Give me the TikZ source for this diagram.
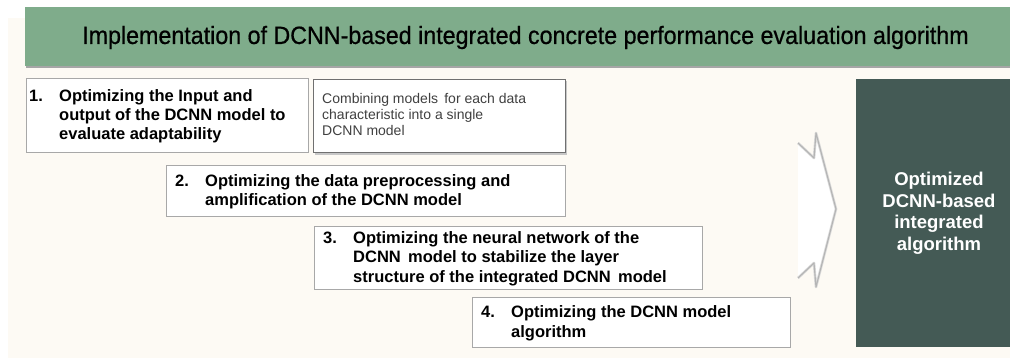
\documentclass[tikz,border=0pt]{standalone}
\usepackage{fontspec}
\setmainfont{Liberation Sans}
\newfontfamily\titlefont[FakeBold=0.7]{Liberation Sans}
\definecolor{bgcream}{HTML}{FDFAF4}
\definecolor{bannergreen}{HTML}{7FAC8B}
\definecolor{darkslate}{HTML}{445A55}
\definecolor{boxgray}{HTML}{A8A8A8}
\definecolor{boxdark}{HTML}{707070}
\definecolor{combtext}{HTML}{404040}
\definecolor{arrowgray}{HTML}{B4B4B4}
\tikzset{
  itembox/.style={draw=boxgray, fill=white, line width=0.9pt, anchor=north west, inner sep=0pt},
  itemtext/.style={anchor=west, inner sep=0pt, text=black,
    font=\fontsize{16.5}{19.3}\selectfont\bfseries},
  combtextstyle/.style={anchor=west, inner sep=0pt, text=combtext,
    font=\fontsize{14}{16}\selectfont},
  resulttext/.style={inner sep=0pt, text=white, align=center,
    font=\fontsize{18.5}{21.5}\selectfont\bfseries},
}
\begin{document}
\begin{tikzpicture}[x=1pt,y=-1pt]
\useasboundingbox (0,0) rectangle (1010,358);
\fill[white] (0,0) rectangle (1010,358);
\fill[bgcream] (8,18) rectangle (1010,358);
% banner
\fill[black!35] (26,9) rectangle (1010,68);
\node[fill=bannergreen, anchor=north west, inner sep=0pt, minimum width=985pt, minimum height=59pt] (banner) at (25,7) {};
\node[inner sep=0pt, font=\titlefont\fontsize{25}{29}\selectfont, text=black] (title) at (525.5,37.5)
  {\scalebox{0.93}[1]{Implementation of DCNN-based integrated concrete performance evaluation algorithm}};
% item boxes
\node[itembox, minimum width=282pt, minimum height=74pt] (b1) at (26,78) {};
\node[itemtext] (t1) at (29,116.5) {\begin{tabular}{@{}p{30pt}@{}l@{}}1.&Optimizing the Input and\\&output of the DCNN model to\\&evaluate adaptability\end{tabular}};
\fill[black!22] (315,81) rectangle (567,155);
\node[itembox, draw=boxdark, minimum width=252pt, minimum height=73pt] (comb) at (313,79) {};
\node[combtextstyle] (ct) at (322,116.5) {\begin{tabular}{@{}l@{}}Combining models \,for each data\\characteristic into a single\\DCNN model\end{tabular}};
\node[itembox, minimum width=399pt, minimum height=51pt] (b2) at (166,165) {};
\node[itemtext] (t2) at (175,192) {\begin{tabular}{@{}p{30pt}@{}l@{}}2.&Optimizing the data preprocessing and\\&amplification of the DCNN model\end{tabular}};
\node[itembox, minimum width=388pt, minimum height=63pt] (b3) at (314,226) {};
\node[itembox, minimum width=318pt, minimum height=50pt] (b4) at (472,297) {};
\node[itemtext] (t3) at (323,259) {\begin{tabular}{@{}p{30pt}@{}l@{}}3.&Optimizing the neural network of the\\&DCNN \,model to stabilize the layer\\&structure of the integrated DCNN \,model\end{tabular}};
\node[itemtext] (t4) at (481,323.5) {\begin{tabular}{@{}p{30pt}@{}l@{}}4.&Optimizing the DCNN model\\&algorithm\end{tabular}};
% arrow head
\fill[white] (798,143) -- (814,158) -- (816,133) -- (836,209) -- (816,287) -- (814,263) -- (798,278) -- cycle;
\draw[arrowgray!50, line width=2.6pt, line join=round] (798,143) -- (814,158) -- (816,133) -- (836,209) -- (816,287) -- (814,263) -- (798,278);
\draw[arrowgray, line width=1.1pt, line join=round] (798,143) -- (814,158) -- (816,133) -- (836,209) -- (816,287) -- (814,263) -- (798,278);
% result box
\node[fill=darkslate, anchor=north west, inner sep=0pt, minimum width=154pt, minimum height=268pt] (res) at (856,79) {};
\node[resulttext] (rt) at (939,213.5) {Optimized\\DCNN-based\\integrated\\algorithm};
\end{tikzpicture}
\end{document}
